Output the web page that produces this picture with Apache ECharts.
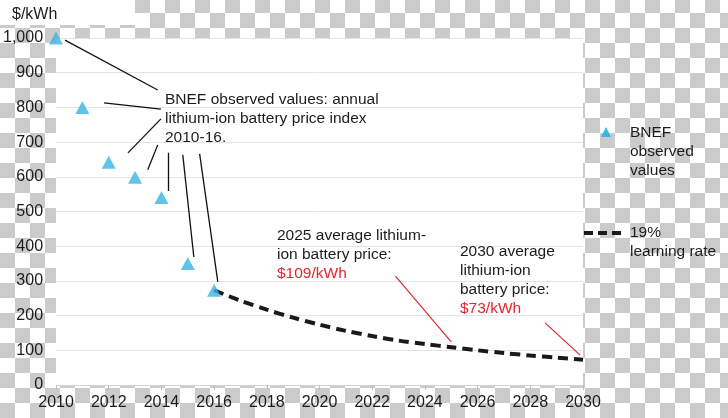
<!DOCTYPE html>
<html>
<head>
<meta charset="utf-8">
<script src="https://cdn.jsdelivr.net/npm/echarts@6/dist/echarts.min.js"></script>
<style>
html,body{margin:0;padding:0;width:728px;height:418px;overflow:hidden;
background:repeating-conic-gradient(#cbcbcb 0 25%, #ffffff 0 50%) 0 -2px / 30px 30px;}
#chart{width:728px;height:418px;}
</style>
</head>
<body>
<div id="chart"></div>
<script>
// ---- data ----
const bnefYears = [2010, 2011, 2012, 2013, 2014, 2015, 2016];
const bnefValues = [1000, 800, 642, 599, 540, 350, 273];
const curveYears = [2016, 2017, 2018, 2019, 2020, 2021, 2022, 2023, 2024, 2025, 2026, 2027, 2028, 2029, 2030];
const curveValues = [273, 243, 217, 194, 174, 156, 141, 128, 118, 109, 100, 92, 85, 79, 73];
const xMin = 2010, xMax = 2030, xStep = 2;
const yMin = 0, yMax = 1000, yStep = 100;
// annotation leader lines (data coordinates: [year, $/kWh])
const blackLeaders = [
  [[2010.34, 994], [2013.86, 850]],
  [[2011.82, 813], [2013.98, 795]],
  [[2012.73, 669], [2013.98, 767]],
  [[2013.48, 620], [2013.86, 692]],
  [[2014.24, 669], [2014.24, 559]],
  [[2014.81, 663], [2015.23, 369]],
  [[2015.45, 666], [2016.14, 297]]
];
const redLeaders = [
  [[2022.88, 314], [2025.0, 124]],
  [[2028.56, 179], [2029.89, 86]]
];
const noteBnef = 'BNEF observed values: annual\nlithium-ion battery price index\n2010-16.';
const note2025 = '2025 average lithium-\nion battery price:';
const note2025Val = '$109/kWh';
const note2030 = '2030 average\nlithium-ion\nbattery price:';
const note2030Val = '$73/kWh';
const legendObserved = 'BNEF\nobserved\nvalues';
const legendCurve = '19%\nlearning rate';
const yUnit = '$/kWh';

// ---- chart ----
const FONT = '"Liberation Sans", Arial, sans-serif';
const TXT = '#1c1c1c', RED = '#e1262d', BLUE = '#3ab4e2', DASH = '#1a1a1a';
const chart = echarts.init(document.getElementById('chart'), null, {renderer: 'canvas'});

function txt(x, y, text, color, size) {
  return {type: 'text', x: x, y: y, z: 100,
    style: {text: text, fill: color || TXT, font: (size || 15.5) + 'px ' + FONT,
      lineHeight: 19, verticalAlign: 'top', align: 'left'}};
}

chart.setOption({
  backgroundColor: 'transparent',
  animation: false,
  grid: {left: 55, right: 145, top: 38, bottom: 33, show: true,
    backgroundColor: '#ffffff', borderWidth: 0},
  xAxis: {
    type: 'value', min: xMin, max: xMax, interval: xStep,
    axisLine: {show: true, lineStyle: {color: '#d4d4d4', width: 1}},
    axisTick: {show: true, length: 5, lineStyle: {color: '#bdbdbd'}},
    splitLine: {show: false},
    axisLabel: {color: TXT, fontSize: 16, fontFamily: FONT, margin: 10,
      formatter: v => String(v)}
  },
  yAxis: {
    type: 'value', min: yMin, max: yMax, interval: yStep,
    axisLine: {show: false}, axisTick: {show: false},
    splitLine: {show: true, lineStyle: {color: '#e4e4e4', width: 1}},
    axisLabel: {color: TXT, fontSize: 16, fontFamily: FONT, margin: 13}
  },
  series: [
    {
      type: 'line', name: '19% learning rate',
      data: curveYears.map((y, i) => [y, curveValues[i]]),
      smooth: 0.3, showSymbol: false, z: 3,
      lineStyle: {color: DASH, width: 4, type: [10, 6]}
    },
    {
      type: 'scatter', name: 'BNEF observed values',
      data: bnefYears.map((y, i) => [y, bnefValues[i]]),
      symbol: 'triangle', symbolSize: [14, 13], z: 5,
      itemStyle: {color: BLUE}
    },
    {
      type: 'lines', coordinateSystem: 'cartesian2d', z: 4,
      data: blackLeaders.map(c => ({coords: c})),
      lineStyle: {color: '#111', width: 1.3, opacity: 1}
    },
    {
      type: 'lines', coordinateSystem: 'cartesian2d', z: 4,
      data: redLeaders.map(c => ({coords: c})),
      lineStyle: {color: RED, width: 1.2, opacity: 1}
    }
  ],
  graphic: [
    {type: 'rect', shape: {x: 0, y: 0, width: 135, height: 25}, style: {fill: '#ffffff'}, z: 1},
    {type: 'text', x: 12, y: 15, z: 100,
      style: {text: yUnit, fill: TXT, font: '16px ' + FONT, verticalAlign: 'middle', align: 'left'}},
    txt(165, 90.5, noteBnef),
    txt(277, 226.5, note2025),
    txt(277, 264.5, note2025Val, RED),
    txt(460, 242.5, note2030),
    txt(460, 299, note2030Val, RED),
    {type: 'polygon', z: 100, shape: {points: [[606, 127], [611, 137], [601, 137]]}, style: {fill: BLUE}},
    txt(630, 123.5, legendObserved),
    {type: 'line', z: 100, shape: {x1: 584, y1: 233, x2: 624, y2: 233},
      style: {stroke: DASH, lineWidth: 4, lineDash: [9, 5]}},
    txt(630, 223.5, legendCurve)
  ]
});
</script>
</body>
</html>
